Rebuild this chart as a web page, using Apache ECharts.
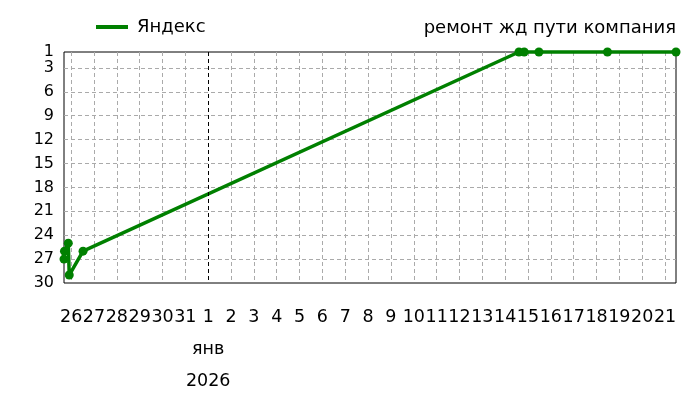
<!DOCTYPE html>
<html>
<head>
<meta charset="utf-8">
<script src="https://cdn.jsdelivr.net/npm/echarts@6/dist/echarts.min.js"></script>
<style>
  html, body { margin: 0; padding: 0; background: #fff; }
  #chart { width: 700px; height: 400px; }
</style>
</head>
<body>
<div id="chart"></div>
<script>
// позиции в выдаче по времени съёма
var seriesName = 'Яндекс';
var chartTitle = 'ремонт жд пути компания';
var times = [
  '2025-12-25 16:30', '2025-12-25 17:00', '2025-12-25 21:00', '2025-12-25 22:00',
  '2025-12-26 12:30', '2026-01-14 14:30', '2026-01-14 20:00', '2026-01-15 11:30',
  '2026-01-18 11:30', '2026-01-21 11:30'
];
var positions = [27, 26, 25, 29, 26, 1, 1, 1, 1, 1];
var monthLabel = 'янв';
var yearLabel = '2026';

var DAY = 86400000;
var origin = Date.UTC(2026, 0, 1);

function toDays(s) {
  var p = s.split(/[- :]/);
  var t = Date.UTC(+p[0], +p[1] - 1, +p[2], +p[3], +p[4]);
  return (t - origin) / DAY;
}

var data = [];
for (var i = 0; i < times.length; i++) {
  data.push([toDays(times[i]), positions[i]]);
}

function dayLabel(v) {
  if (Math.abs(v - Math.round(v)) > 1e-6) return '';
  v = Math.round(v);
  var d = new Date(origin + v * DAY);
  if (v === 0) return d.getUTCDate() + '\n' + monthLabel + '\n' + yearLabel;
  return '' + d.getUTCDate();
}

var font = 'DejaVu Sans';
var chart = echarts.init(document.getElementById('chart'), null, { renderer: 'canvas' });

var option = {
  animation: false,
  backgroundColor: '#fff',
  title: {
    text: chartTitle,
    right: 24,
    top: 19,
    padding: 0,
    textStyle: { fontFamily: font, fontSize: 18, fontWeight: 'normal', color: '#000' }
  },
  legend: {
    data: [seriesName],
    left: 96,
    top: 18,
    padding: 0,
    icon: 'rect',
    itemWidth: 32,
    itemHeight: 4,
    textStyle: { fontFamily: font, fontSize: 18, color: '#000', padding: [0, 0, 0, 4] }
  },
  grid: {
    left: 64,
    right: 24,
    top: 52,
    bottom: 117,
    show: true,
    borderColor: '#000',
    borderWidth: 1,
    containLabel: false
  },
  xAxis: {
    type: 'value',
    min: 'dataMin',
    max: 'dataMax',
    splitNumber: 26,
    minInterval: 1,
    maxInterval: 1,
    axisLine: { show: false },
    axisTick: { show: false },
    axisLabel: {
      showMinLabel: false,
      showMaxLabel: false,
      margin: 18,
      fontFamily: font,
      fontSize: 17.5,
      color: '#000',
      lineHeight: 32,
      formatter: dayLabel
    },
    splitLine: {
      show: true,
      showMinLine: false,
      showMaxLine: false,
      lineStyle: { color: '#aaa', type: [4, 3], width: 1 }
    }
  },
  yAxis: {
    type: 'value',
    inverse: true,
    min: 1,
    max: 30,
    splitNumber: 10,
    axisLine: { show: false },
    axisTick: { show: false },
    axisLabel: {
      margin: 10,
      fontFamily: font,
      fontSize: 16,
      color: '#000'
    },
    splitLine: {
      show: true,
      showMinLine: false,
      showMaxLine: false,
      lineStyle: { color: '#aaa', type: [4, 3], width: 1 }
    }
  },
  series: [{
    name: seriesName,
    type: 'line',
    data: data,
    clip: false,
    color: '#008000',
    symbol: 'circle',
    symbolSize: 9,
    showSymbol: true,
    lineStyle: { width: 3.5, color: '#008000' },
    itemStyle: { color: '#008000' },
    markLine: {
      silent: true,
      symbol: 'none',
      label: { show: false },
      lineStyle: { color: '#000', type: [4, 3], width: 1 },
      data: [{ xAxis: 0 }]
    }
  }]
};

chart.setOption(option);
</script>
</body>
</html>
